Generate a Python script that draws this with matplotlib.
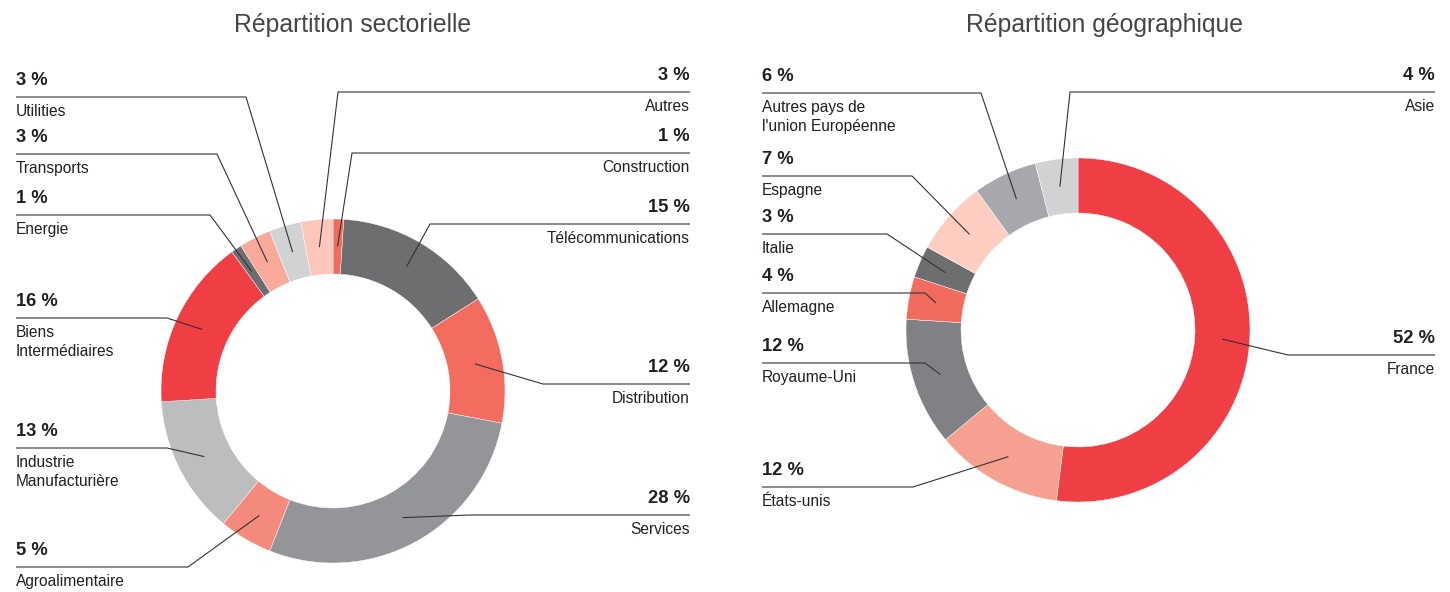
import matplotlib
matplotlib.use("Agg")
import matplotlib.pyplot as plt
import numpy as np

W, H = 1450, 592

# Répartition sectorielle (clockwise from 12 o'clock)
sect_labels = ["Construction", "Télécommunications", "Distribution", "Services",
               "Agroalimentaire", "Industrie\nManufacturière", "Biens\nIntermédiaires",
               "Energie", "Transports", "Utilities", "Autres"]
sect_values = [1, 15, 12, 28, 5, 13, 16, 1, 3, 3, 3]
sect_colors = ["#f26b5f", "#6d6e70", "#f36c60", "#939598", "#f48a7b", "#bcbdbf",
               "#ef3e44", "#6d6e70", "#f7aa9b", "#d1d2d4", "#fcc6ba"]

# Répartition géographique
geo_labels = ["France", "États-unis", "Royaume-Uni", "Allemagne", "Italie",
              "Espagne", "Autres pays de\nl'union Européenne", "Asie"]
geo_values = [52, 12, 12, 4, 3, 7, 6, 4]
geo_colors = ["#ef3e44", "#f5a090", "#808184", "#f26b5f", "#6d6e70",
              "#fdcdc1", "#a7a8ab", "#d1d2d4"]

# label layout: side, y of the rule under the percentage, x where the rule bends
sect_side = ["R", "R", "R", "R", "L", "L", "L", "L", "L", "L", "R"]
sect_rule_y = [153, 224, 384, 515, 567, 448, 318, 215, 154, 97, 92]
sect_elbow_x = [352, 430, 543, 470, 188, 167, 167, 210, 217, 246, 338]

geo_side = ["R", "L", "L", "L", "L", "L", "L", "R"]
geo_rule_y = [355, 487, 363, 293, 234, 176, 93, 92]
geo_elbow_x = [1288, 913, 925, 925, 887, 912, 981, 1070]

LABEL_FONT = ["Liberation Sans", "DejaVu Sans"]
TEXT_COL = "#231f20"


def draw_donut(ax, cx, cy, values, colors, labels, side, rule_y, elbow_x,
               x_left, x_right, title, title_x):
    r_out, r_in = 172, 117
    yc = H - cy
    ax.pie(values, colors=colors, startangle=90, counterclock=False,
           center=(cx, yc), radius=r_out,
           wedgeprops=dict(width=r_out - r_in, edgecolor="white", linewidth=0.3))

    total = float(sum(values))
    cum = np.cumsum([0] + list(values))
    r_mid = (r_out + r_in) / 2
    for i, v in enumerate(values):
        frac = (cum[i] + v / 2) / total
        ang = 2 * np.pi * frac
        ax_x = cx + r_mid * np.sin(ang)
        ax_y = yc + r_mid * np.cos(ang)
        ry = H - rule_y[i]
        if side[i] == "L":
            x0, ha = x_left, "left"
        else:
            x0, ha = x_right, "right"
        ax.plot([x0, elbow_x[i], ax_x], [ry, ry, ax_y], color="#333333",
                lw=0.8, solid_capstyle="butt", zorder=5)
        ax.text(x0, ry + 8, f"{v} %", ha=ha, va="bottom", fontsize=13.2,
                fontweight="bold", color=TEXT_COL, family=LABEL_FONT)
        ax.text(x0, ry - 7, labels[i], ha=ha, va="top", fontsize=11.2,
                color=TEXT_COL, family=LABEL_FONT, linespacing=1.3)

    ax.text(title_x, H - 25, title, ha="center", va="center", fontsize=17.8,
            color="#454545", family=["Liberation Sans", "DejaVu Sans"])


fig = plt.figure(figsize=(W / 100, H / 100), dpi=100)
ax = fig.add_axes([0, 0, 1, 1])

draw_donut(ax, 333, 391, sect_values, sect_colors, sect_labels, sect_side,
           sect_rule_y, sect_elbow_x, 16, 690, "Répartition sectorielle", 353)
draw_donut(ax, 1078, 330, geo_values, geo_colors, geo_labels, geo_side,
           geo_rule_y, geo_elbow_x, 762, 1435, "Répartition géographique", 1105)

ax.set_xlim(0, W)
ax.set_ylim(0, H)
ax.set_aspect("auto")
ax.axis("off")

fig.savefig("out.png", dpi=100, facecolor="white")
